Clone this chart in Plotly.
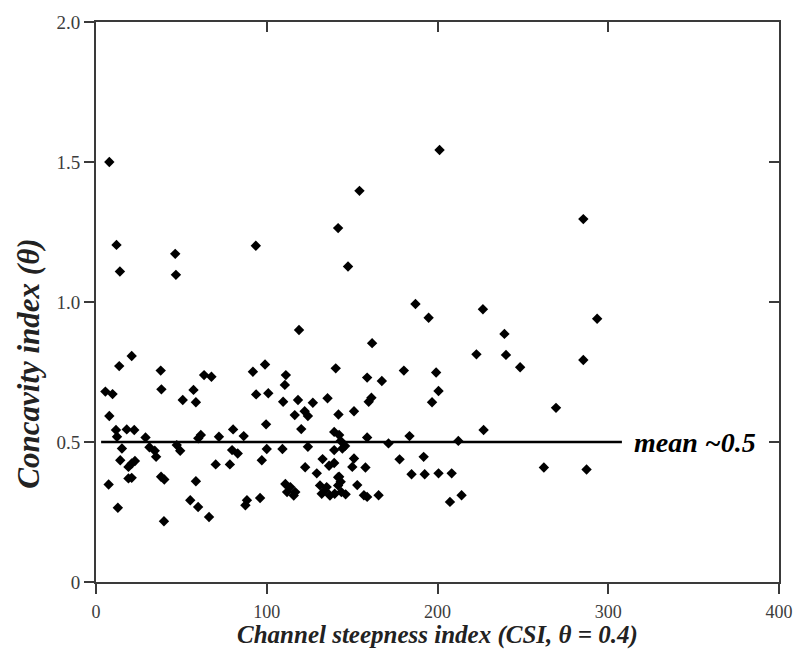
import plotly.graph_objects as go

# Channel steepness index (CSI) values and concavity index values
csi = [
    7.8, 12.0, 14.0, 46.4, 46.8, 93.6, 141.8, 147.6, 154.3, 118.9,
    201.2, 285.4, 187.1, 194.8, 226.6, 293.5, 239.2, 222.8, 240.1, 248.4,
    285.4, 180.3, 199.2, 200.6, 196.8, 269.4, 227.0, 183.6, 212.2, 177.8,
    191.9, 184.8, 192.5, 200.6, 208.3, 207.3, 214.1, 262.3, 287.3,
    20.9, 13.6, 37.9, 38.3, 5.5, 9.7, 63.3, 67.6, 57.1, 50.8,
    58.5, 7.8, 11.7, 18.0, 22.4, 29.0, 61.4, 59.9, 72.0, 12.3,
    15.2, 31.3, 34.4, 35.2, 47.3, 49.3, 14.2, 20.9, 22.8, 19.0,
    7.4, 19.0, 20.9, 38.1, 40.0, 58.5, 70.1, 12.8, 55.2, 59.8,
    66.2, 39.8,
    99.0, 91.9, 111.2, 110.6, 93.8, 100.9, 109.6, 118.3, 127.0, 135.6,
    116.4, 122.2, 124.1, 99.6, 120.2, 80.3, 86.5, 140.4, 142.0, 139.5,
    142.4, 79.7, 83.0, 78.4, 97.1, 100.0, 109.2, 124.1, 122.5, 132.7,
    136.5, 129.3, 139.5, 143.3, 139.5,
    96.1, 88.4, 87.5, 110.9, 113.8, 111.9, 116.7, 115.8, 131.2, 135.1,
    132.2, 137.0, 134.1, 141.8, 141.8, 139.8, 143.7,
    161.7, 158.8, 167.4, 161.3, 159.7, 151.1, 158.8, 171.3, 144.3, 145.9,
    151.1, 150.1, 157.8, 142.4, 143.3, 153.0, 146.2, 156.9, 158.8, 165.5,
]
concavity = [
    1.500, 1.204, 1.109, 1.172, 1.097, 1.201, 1.264, 1.127, 1.397, 0.900,
    1.543, 1.296, 0.993, 0.944, 0.974, 0.940, 0.886, 0.813, 0.811, 0.767,
    0.793, 0.755, 0.748, 0.682, 0.642, 0.622, 0.543, 0.521, 0.504, 0.438,
    0.447, 0.385, 0.385, 0.388, 0.388, 0.286, 0.310, 0.409, 0.402,
    0.807, 0.771, 0.755, 0.688, 0.680, 0.671, 0.739, 0.733, 0.686, 0.650,
    0.642, 0.593, 0.543, 0.545, 0.543, 0.516, 0.525, 0.513, 0.519, 0.519,
    0.477, 0.481, 0.469, 0.447, 0.489, 0.469, 0.435, 0.423, 0.432, 0.411,
    0.348, 0.370, 0.372, 0.376, 0.366, 0.360, 0.420, 0.265, 0.292, 0.268,
    0.232, 0.217,
    0.777, 0.751, 0.739, 0.704, 0.670, 0.674, 0.644, 0.650, 0.640, 0.656,
    0.596, 0.610, 0.593, 0.563, 0.546, 0.545, 0.521, 0.763, 0.598, 0.536,
    0.525, 0.471, 0.459, 0.420, 0.435, 0.475, 0.475, 0.483, 0.410, 0.439,
    0.415, 0.388, 0.471, 0.504, 0.425,
    0.300, 0.292, 0.274, 0.350, 0.339, 0.321, 0.321, 0.309, 0.345, 0.339,
    0.315, 0.309, 0.327, 0.374, 0.345, 0.315, 0.321,
    0.853, 0.730, 0.718, 0.658, 0.644, 0.610, 0.516, 0.495, 0.477, 0.486,
    0.441, 0.411, 0.409, 0.376, 0.358, 0.346, 0.313, 0.310, 0.304, 0.310,
]

mean_value = 0.5
mean_line_x = [3, 308]
mean_label = "mean ~0.5"
mean_label_x = 351

x_ticks = [0, 100, 200, 300, 400]
x_ticktext = ["0", "100", "200", "300", "400"]
y_ticks = [0, 0.5, 1.0, 1.5, 2.0]
y_ticktext = ["0", "0.5", "1.0", "1.5", "2.0"]

x_title = "Channel steepness index (CSI, θ = 0.4)"
y_title = "Concavity index (θ)"

SERIF = "Liberation Serif, Times New Roman, serif"
AXC = "#3a3a3a"
TICKC = "#3c3c3c"

fig = go.Figure()

fig.add_trace(go.Scatter(
    x=mean_line_x, y=[mean_value, mean_value], mode="lines",
    line=dict(color="black", width=2.5), showlegend=False, hoverinfo="skip",
))

fig.add_trace(go.Scatter(
    x=csi, y=concavity, mode="markers",
    marker=dict(symbol="diamond", size=8, color="black", line=dict(width=0)),
    showlegend=False,
))

# invisible trace so the mirrored axes (top/right) are drawn
fig.add_trace(go.Scatter(
    x=[x_ticks[0]], y=[y_ticks[0]], xaxis="x2", yaxis="y2", mode="markers",
    marker=dict(opacity=0), showlegend=False, hoverinfo="skip",
))

axis_common = dict(showgrid=False, zeroline=False, showline=True,
                   linecolor=AXC, linewidth=2, tickcolor=AXC, tickwidth=2,
                   ticklen=10)

fig.update_layout(
    width=805, height=650, autosize=False,
    margin=dict(l=96, r=17, t=22, b=68),
    paper_bgcolor="white", plot_bgcolor="white",
    xaxis=dict(range=[0, 400], ticks="outside", tickvals=x_ticks,
               ticktext=x_ticktext, ticklabelstandoff=2,
               tickfont=dict(family=SERIF, size=18, color=TICKC),
               **axis_common),
    yaxis=dict(range=[0, 2.0], ticks="outside", tickvals=y_ticks,
               ticktext=y_ticktext,
               tickfont=dict(family=SERIF, size=19, color=TICKC),
               **axis_common),
    xaxis2=dict(range=[0, 400], overlaying="x", side="top", ticks="inside",
                tickvals=x_ticks[1:-1], showticklabels=False, **axis_common),
    yaxis2=dict(range=[0, 2.0], overlaying="y", side="right", ticks="inside",
                tickvals=y_ticks[1:-1], showticklabels=False, **axis_common),
)

fig.add_annotation(
    x=mean_label_x, y=mean_value, xref="x", yref="y", text=mean_label,
    showarrow=False, xanchor="center", yanchor="middle",
    font=dict(family=SERIF, size=28, color="black", weight="bold", style="italic"),
)
fig.add_annotation(
    x=0.5, y=-0.095, xref="paper", yref="paper", text=x_title, showarrow=False,
    xanchor="center", yanchor="middle",
    font=dict(family=SERIF, size=25, color="#222222", weight="bold", style="italic"),
)
fig.add_annotation(
    x=-0.098, y=0.39, xref="paper", yref="paper", text=y_title, showarrow=False,
    textangle=-90, xanchor="center", yanchor="middle",
    font=dict(family=SERIF, size=31, color="#222222", weight="bold", style="italic"),
)

fig.write_html("out.html")
